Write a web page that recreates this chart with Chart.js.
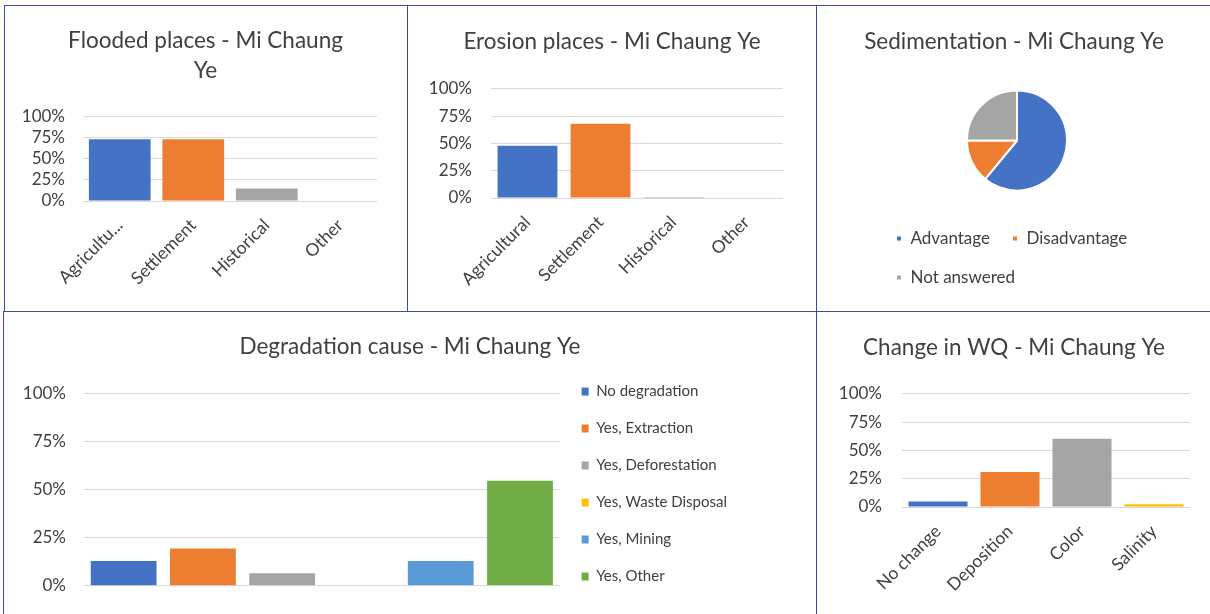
<!DOCTYPE html>
<html>
<head>
<meta charset="utf-8">
<title>Mi Chaung Ye survey charts</title>
<script src="https://cdn.jsdelivr.net/npm/chart.js@4.4.1/dist/chart.umd.min.js"></script>
<style>
  html, body { margin: 0; padding: 0; background: #fff; overflow: hidden; }
  body { width: 1210px; height: 614px; position: relative; }
  .panel { position: absolute; box-sizing: border-box; border: 1px solid #3F4BA5; }
  canvas { position: absolute; }
</style>
</head>
<body>
<div class="panel" style="left:4px;top:5px;width:404px;height:307px"></div>
<div class="panel" style="left:407px;top:5px;width:410px;height:307px"></div>
<div class="panel" style="left:816px;top:5px;width:400px;height:307px"></div>
<div class="panel" style="left:3px;top:311px;width:814px;height:310px"></div>
<div class="panel" style="left:816px;top:311px;width:400px;height:310px"></div>

<canvas id="flooded" width="401" height="304" style="left:5px;top:6px"></canvas>
<canvas id="erosion" width="408" height="304" style="left:408px;top:6px"></canvas>
<canvas id="sediment" width="392" height="304" style="left:818px;top:6px"></canvas>
<canvas id="degradation" width="812" height="302" style="left:4px;top:312px"></canvas>
<canvas id="waterQuality" width="392" height="302" style="left:818px;top:312px"></canvas>

<script>
// --- data (percent of respondents) ---
const floodCategories = ['Agricultural', 'Settlement', 'Historical', 'Other'];
const floodValues = [73.5, 73.5, 15, 0];

const erosionCategories = ['Agricultural', 'Settlement', 'Historical', 'Other'];
const erosionValues = [48, 68, 1, 0];

const sedimentLabels = ['Advantage', 'Disadvantage', 'Not answered'];
const sedimentValues = [61, 14, 25];

const degradationLabels = ['No degradation', 'Yes, Extraction', 'Yes, Deforestation',
  'Yes, Waste Disposal', 'Yes, Mining', 'Yes, Other'];
const degradationValues = [12.9, 19.4, 6.5, 0, 12.9, 54.8];

const wqCategories = ['No change', 'Deposition', 'Color', 'Salinity'];
const wqValues = [4.8, 31, 60.5, 2.5];

// office palette
const palette = ['#4472C4', '#ED7D31', '#A5A5A5', '#FFC000', '#5B9BD5', '#70AD47'];

const FONT = 'Lato, "Open Sans", sans-serif';
const TEXT = '#404040';
const GRID = '#D9D9D9';

Chart.defaults.font.family = FONT;
Chart.defaults.color = TEXT;
Chart.defaults.animation = false;

// Excel centres each title over the whole panel (legend and padding included)
Chart.register({
  id: 'panelTitle',
  afterLayout(chart) {
    const t = chart.titleBlock;
    if (!t) return;
    t.left = 0;
    t.right = chart.width;
    t.width = chart.width;
  }
});

function titleOpts(text, top, bottom) {
  return {
    display: true,
    text: text,
    color: TEXT,
    font: { size: 22.5, weight: 'normal', lineHeight: 1.333 },
    padding: { top: top, bottom: bottom }
  };
}

function percentAxis(width, pad) {
  return {
    min: 0,
    max: 100,
    grid: { color: GRID, lineWidth: 1, drawTicks: false },
    border: { display: false },
    ticks: {
      stepSize: 25,
      autoSkip: false,
      padding: pad,
      color: TEXT,
      font: { size: 17 },
      callback: v => v + '%'
    },
    afterFit: s => { s.width = width; }
  };
}

// simple column chart with one series, rotated category labels
function columnChart(id, cfg) {
  return new Chart(document.getElementById(id), {
    type: 'bar',
    data: {
      labels: cfg.labels,
      datasets: [{
        data: cfg.values,
        backgroundColor: palette.slice(0, cfg.values.length),
        categoryPercentage: 1,
        barPercentage: cfg.barPct
      }]
    },
    options: {
      responsive: false,
      layout: { padding: { right: cfg.padRight } },
      plugins: {
        legend: { display: false },
        tooltip: { enabled: false },
        title: titleOpts(cfg.title, cfg.titleTop, cfg.titleBottom)
      },
      scales: {
        x: {
          grid: { display: false },
          border: { display: false },
          ticks: {
            minRotation: 45,
            maxRotation: 45,
            autoSkip: false,
            padding: 6,
            color: TEXT,
            font: { size: 17.5 },
            callback: function (v) {
              const l = this.getLabelForValue(v);
              return (cfg.truncate && l.length > 10) ? l.slice(0, 9) + '...' : l;
            }
          },
          afterFit: s => { s.height = cfg.xHeight; }
        },
        y: percentAxis(cfg.yWidth, cfg.yPad)
      }
    }
  });
}

columnChart('flooded', {
  labels: floodCategories, values: floodValues, truncate: true,
  title: ['Flooded places - Mi Chaung', 'Ye'], titleTop: 20, titleBottom: 31,
  barPct: 0.84, padRight: 29, xHeight: 109, yWidth: 78, yPad: 18
});

columnChart('erosion', {
  labels: erosionCategories, values: erosionValues,
  title: 'Erosion places - Mi Chaung Ye', titleTop: 21, titleBottom: 32,
  barPct: 0.82, padRight: 33, xHeight: 112, yWidth: 83, yPad: 19
});

columnChart('waterQuality', {
  labels: wqCategories, values: wqValues,
  title: 'Change in WQ - Mi Chaung Ye', titleTop: 21, titleBottom: 31,
  barPct: 0.82, padRight: 20, xHeight: 107, yWidth: 84, yPad: 20
});

// pie
new Chart(document.getElementById('sediment'), {
  type: 'pie',
  data: {
    labels: sedimentLabels,
    datasets: [{
      data: sedimentValues,
      backgroundColor: palette.slice(0, 3),
      borderColor: '#ffffff',
      borderWidth: 2
    }]
  },
  options: {
    responsive: false,
    radius: 50,
    layout: { padding: { left: 56, right: 50, bottom: 14 } },
    plugins: {
      tooltip: { enabled: false },
      title: titleOpts('Sedimentation - Mi Chaung Ye', 21, 16),
      legend: {
        position: 'bottom',
        align: 'start',
        labels: { boxWidth: 6, boxHeight: 6, padding: 22, color: TEXT, font: { size: 17 } }
      }
    }
  }
});

// degradation: one group, one dataset per cause
new Chart(document.getElementById('degradation'), {
  type: 'bar',
  data: {
    labels: [''],
    datasets: degradationLabels.map((name, i) => ({
      label: name,
      data: [degradationValues[i]],
      backgroundColor: palette[i],
      categoryPercentage: 1,
      barPercentage: 0.83
    }))
  },
  options: {
    responsive: false,
    layout: { padding: { right: 79, bottom: 8 } },
    plugins: {
      tooltip: { enabled: false },
      title: titleOpts('Degradation cause - Mi Chaung Ye', 20, 32),
      legend: {
        position: 'right',
        align: 'end',
        labels: { boxWidth: 7, boxHeight: 8, padding: 22, color: TEXT, font: { size: 15 } }
      }
    },
    scales: {
      x: {
        grid: { display: false },
        border: { display: false },
        ticks: { display: false },
        afterFit: s => { s.height = 19; }
      },
      y: percentAxis(80, 18)
    }
  }
});
</script>
</body>
</html>
